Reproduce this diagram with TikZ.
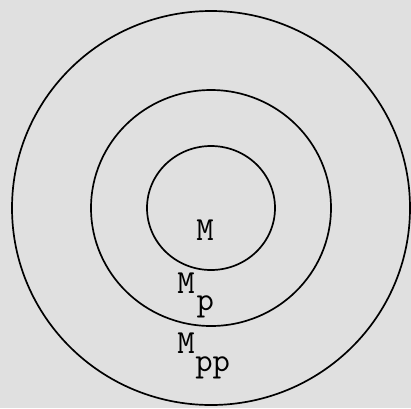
\documentclass[tikz,border=0pt]{standalone}
\usetikzlibrary{positioning}
\begin{document}
\begin{tikzpicture}[
    x=0.025cm, y=-0.025cm,   % 1 unit = 1 px of the scan
    ring/.style={draw, line width=1.2pt},
    lbl/.style={font=\ttfamily\fontsize{24}{24}\selectfont, inner sep=0pt}
]

    % --- 0. frame ---
    \fill[black!12] (0,0) rectangle (411,408);
    \useasboundingbox (0,0) rectangle (411,408);

    % --- 1. rings round one centre ---
    \coordinate (O) at (211,208);
    \draw[ring] (O) circle[x radius=199, y radius=197];   % outer
    \draw[ring] (O) circle[x radius=120, y radius=118];   % middle
    \draw[ring] (O) circle[x radius=64, y radius=62];     % inner

    % --- 2. labels ---
    \node[lbl] (M) at (205,230) {M};

    \node[lbl] (Mp) at (186,283) {M};
    \node[lbl, below right=1pt and 1pt of Mp] (Mp sub) {p};

    \node[lbl] (Mpp) at (186,343) {M};
    \node[lbl, below right=2pt and 0pt of Mpp] (Mpp sub) {pp};

\end{tikzpicture}
\end{document}
